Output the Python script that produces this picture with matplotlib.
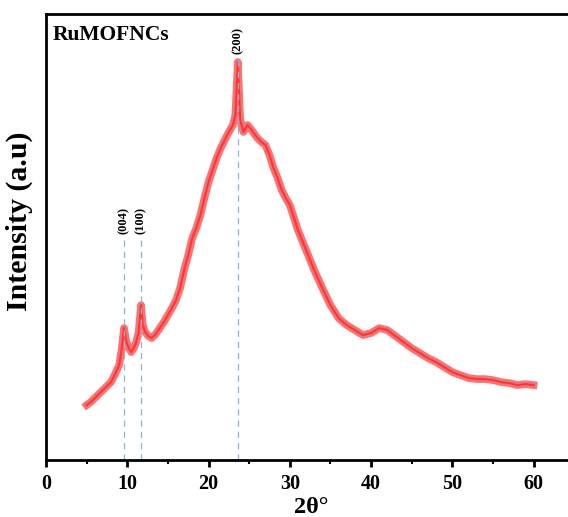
import matplotlib.pyplot as plt
import numpy as np

# XRD pattern (intensity in arbitrary units)
two_theta = [5, 5.5, 6, 6.5, 7, 7.5, 8, 8.5, 9, 9.3, 9.6, 9.9, 10.2, 10.5, 10.8, 11.1, 11.4, 11.7, 11.9, 12.2,
             12.6, 13, 13.5, 14, 14.5, 15, 15.5, 16, 16.5, 17, 17.5, 18, 18.5, 19, 19.5, 20, 20.5, 21, 21.5,
             22, 22.5, 23, 23.3, 23.6, 23.9, 24.3, 24.8, 25.3, 26, 26.5, 27, 27.5, 28, 28.5, 29, 29.5, 30,
             31, 32, 33, 34, 35, 36, 37, 38, 39, 40, 41, 42, 43, 44, 45, 46, 47, 48, 49, 50, 51, 52, 53,
             54, 55, 56, 57, 58, 59, 60]
intensity = [55, 58, 62, 66, 70, 74, 78, 86, 95, 110, 132, 118, 112, 108, 112, 118, 128, 155, 135, 128,
             124, 122, 126, 132, 138, 145, 152, 160, 172, 190, 205, 222, 232, 245, 262, 278, 290, 302, 312,
             320, 328, 335, 345, 398, 340, 328, 335, 330, 322, 318, 315, 305, 292, 282, 270, 262, 255,
             230, 210, 190, 172, 155, 142, 135, 130, 125, 127, 132, 130, 124, 118, 112, 107, 102, 98, 93,
             88, 85, 82, 81, 81, 80, 78, 77, 75, 76, 75]

peak_pos = [9.6, 11.7, 23.6]
peak_labels = ['(004)', '(100)', '(200)']
peak_tops = [222, 222, 402]

serif = ['Liberation Serif', 'DejaVu Serif']

fig = plt.figure(figsize=(5.68, 5.17), dpi=100)
ax = fig.add_axes([0.081, 0.110, 0.940, 0.863])

ax.plot(two_theta, intensity, color='#f75a5a', lw=5.5, alpha=0.85)
ax.plot(two_theta, intensity, color='#ff3535', lw=1.5)

for p, lab, top in zip(peak_pos, peak_labels, peak_tops):
    ax.plot([p, p], [0, top], color='#8ab4d8', lw=0.9, ls=(0, (5, 4)))
    ax.text(p, top + 4, lab, rotation=90, ha='center', va='bottom',
            family=serif, fontweight='bold', fontsize=9)

ax.text(0.012, 0.975, 'RuMOFNCs', transform=ax.transAxes, ha='left', va='top',
        family=serif, fontweight='bold', fontsize=15.5)

ax.set_xlim(0, 65.7)
ax.set_ylim(0, 446)
ax.set_xticks([0, 10, 20, 30, 40, 50, 60])
ax.set_xticks([5, 15, 25, 35, 45, 55, 65], minor=True)
ax.set_yticks([])
ax.tick_params(axis='x', which='major', length=5, width=2, labelsize=14.5, pad=5)
ax.tick_params(axis='x', which='minor', length=3, width=1.5)
for lbl in ax.get_xticklabels():
    lbl.set_family(serif)
    lbl.set_fontweight('bold')
for s in ax.spines.values():
    s.set_linewidth(2)

ax.set_xlabel('2θ°', family=serif, fontweight='bold', fontsize=17.5)
ax.set_ylabel('Intensity (a.u)', family=serif, fontweight='bold', fontsize=21.5)
ax.xaxis.set_label_coords(0.496, -0.082)
ax.yaxis.set_label_coords(-0.024, 0.536)

fig.savefig('out.png', dpi=100)
